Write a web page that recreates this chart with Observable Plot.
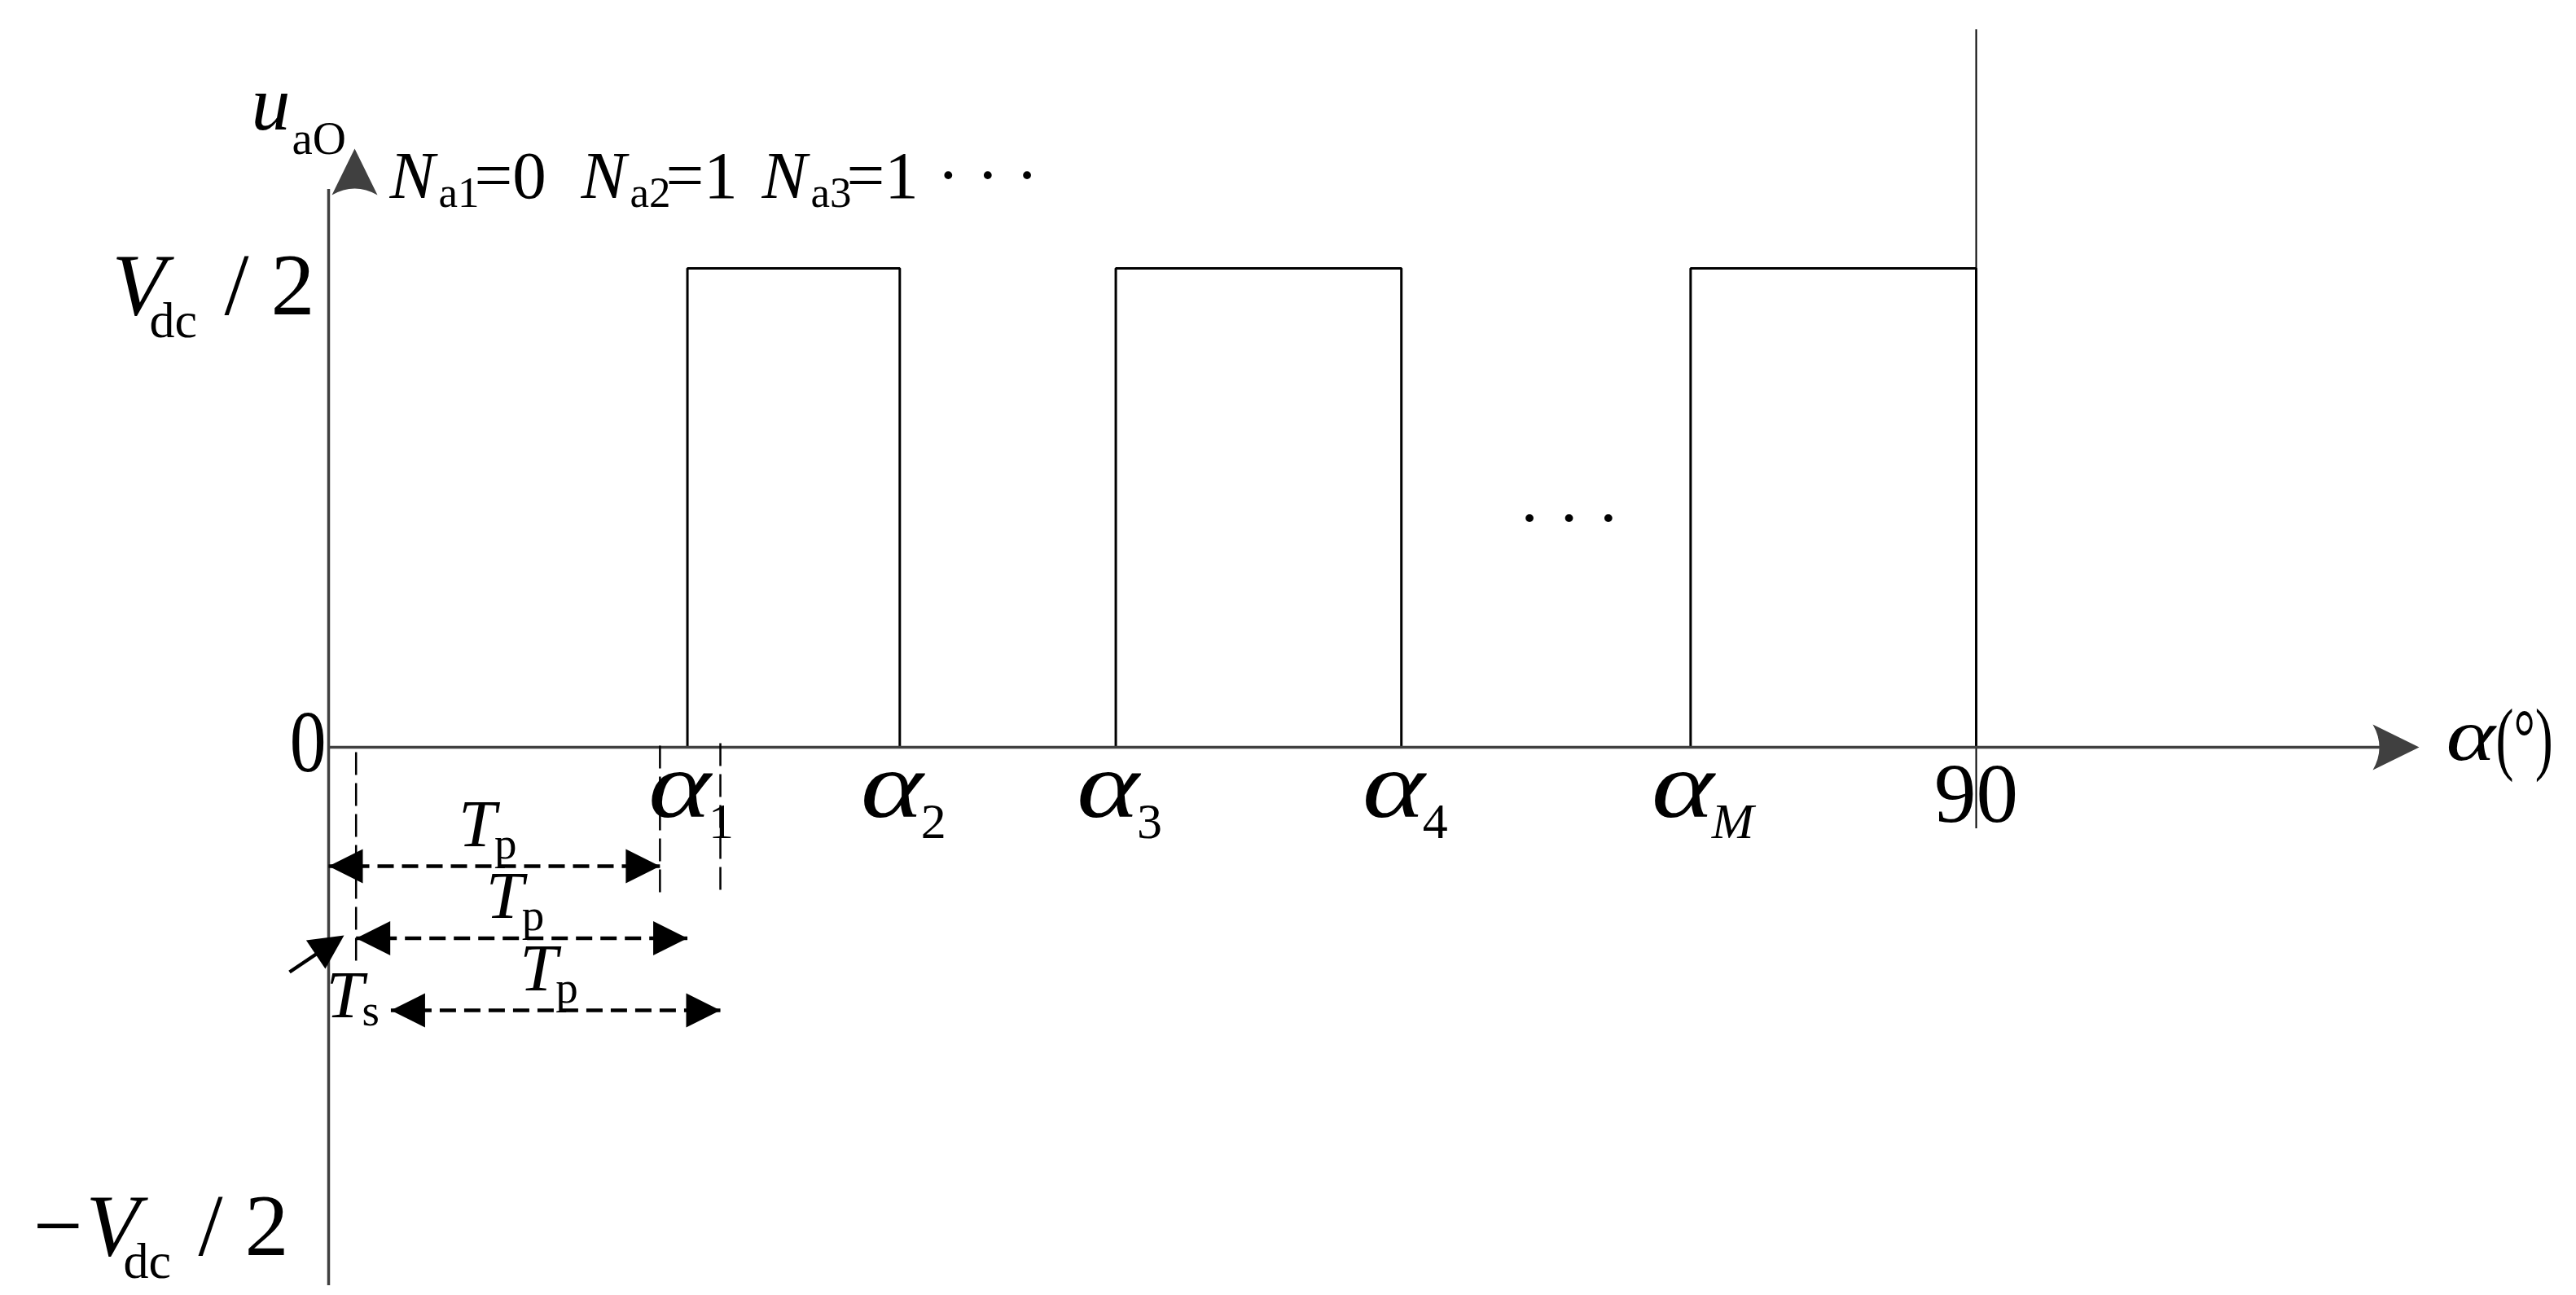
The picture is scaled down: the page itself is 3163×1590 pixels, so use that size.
<!DOCTYPE html>
<html><head><meta charset="utf-8">
<script src="https://cdn.jsdelivr.net/npm/d3@7"></script>
<script src="https://cdn.jsdelivr.net/npm/@observablehq/plot@0.6"></script>
<style>html,body{margin:0;padding:0;background:#fff;overflow:hidden}</style>
</head><body><div id="chart"></div>
<script>
// ---------------- data ----------------
const switchNames = ["1", "2", "3", "4", "M"];          // α subscripts
const switchAngles = [19.6, 31.2, 43.0, 58.6, 74.4];   // switching angles (deg)
const quarterEnd = 90;                                  // end of quarter wave (deg)
const pulseLevel = 1;                                   // Vdc/2 (normalised)
const levelValues = [1, 0, -1];                         // +Vdc/2, 0, −Vdc/2
const nNames = ["a1", "a2", "a3"];
const nValues = [0, 1, 1];
const windowStarts = [0, 1.5, 3.4];                     // Tp windows (deg)
const windowEnds = [18.1, 19.6, 21.4];

// ---------------- geometry ----------------
const W = 3163, H = 1590;
const ox = 403, kx = 22.478, oy = 917, ky = 588;
const X = p => (p - ox) / kx;
const Y = p => (oy - p) / ky;
const FONT = "'Liberation Serif', 'Times New Roman', serif";
const AXIS = "#404040";

// pulses from switching angles
const edges = [...switchAngles, quarterEnd];
const pulsePts = [];
for (let i = 0; i + 1 < edges.length; i += 2) {
  const a = edges[i], b = edges[i + 1];
  pulsePts.push({x: a, y: 0, k: i}, {x: a, y: pulseLevel, k: i}, {x: b, y: pulseLevel, k: i}, {x: b, y: 0, k: i});
}

// custom arrowhead symbols (tip at origin, pointing up)
const axisHead = {draw(ctx) { ctx.moveTo(0, 0); ctx.lineTo(28, 57); ctx.quadraticCurveTo(0, 41, -28, 57); ctx.closePath(); }};
const triHead = {draw(ctx) { ctx.moveTo(0, 0); ctx.lineTo(21, 42); ctx.lineTo(-21, 42); ctx.closePath(); }};

// Tp windows
const rows = windowStarts.map((s, i) => ({s, e: windowEnds[i], y: Y(1063 + i * 88.5), i}));

// text parts
const parts = [];
function P(x, y, dx, dy, t, s, it = false, anchor = "start") {
  parts.push({x: x + dx / kx, y: y - dy / ky, t, s, it, anchor});
}
// axis titles
P(X(308), Y(158), 0, 0, "u", 96, true);
P(X(358), Y(188), 0, 0, "aO", 57);
P(X(3003), Y(932), 0, 0, "α", 92, true);
P(X(3064), Y(938), 0, 0, "(°)", 100);
// N labels
const nX = [478, 713, 935];
nNames.forEach((n, i) => {
  P(X(nX[i]), Y(242), 0, 0, "N", 83, true);
  P(X(nX[i] + 60), Y(253), 0, 0, n, 53);
  P(X(nX[i] + 104), Y(242), 0, 0, "=" + nValues[i], 83);
});
P(X(1150), Y(242), 0, 0, "· · ·", 83);
// level labels
levelValues.forEach(v => {
  if (v > 0) {
    P(0, v, -266, 56, "V", 108, true);
    P(0, v, -220, 84, "dc", 62);
    P(0, v, -128, 56, "/ 2", 108);
  } else if (v < 0) {
    P(0, v, -363, 35, "−", 108);
    P(0, v, -298, 35, "V", 108, true);
    P(0, v, -252, 63, "dc", 62);
    P(0, v, -160, 35, "/ 2", 108);
  } else {
    P(0, v, -3, 29, "0", 108, false, "end");
  }
});
// switching angle labels
switchAngles.forEach((a, i) => {
  P(a, 0, -48, 85, "α", 117, true);
  P(a, 0, 26, 111, switchNames[i], 62, switchNames[i] === "M");
});
P(quarterEnd, 0, 0, 91, "90", 103, false, "middle");
P(X(1926), Y(663), 0, 0, "· · ·", 83, false, "middle");
// Tp / Ts labels
rows.forEach(r => {
  const c = (r.s + r.e) / 2;
  P(c, r.y, -44, -25, "T", 83, true);
  P(c, r.y, 0, -10, "p", 55);
});
P(X(400), Y(1248), 0, 0, "T", 83, true);
P(X(444), Y(1258), 0, 0, "s", 55);

function textMarks() {
  const out = [];
  for (const it of [true, false]) for (const anchor of ["start", "middle", "end"]) {
    const d = parts.filter(p => p.it === it && p.anchor === anchor);
    if (!d.length) continue;
    out.push(Plot.text(d, {x: "x", y: "y", text: "t", fontSize: "s", textAnchor: anchor, lineAnchor: "bottom",
      fontStyle: it ? "italic" : "normal", fontFamily: FONT, fill: "#000"}));
  }
  return out;
}

const chart = Plot.plot({
  width: W, height: H, margin: 0,
  style: {fontFamily: FONT, background: "#fff"},
  x: {domain: [X(0), X(W)], range: [0, W], axis: null},
  y: {domain: [Y(H), Y(0)], range: [H, 0], axis: null},
  marks: [
    // pulses
    Plot.line(pulsePts, {x: "x", y: "y", z: "k", stroke: "#000", strokeWidth: 3, strokeLinejoin: "miter"}),
    // 90° marker
    Plot.ruleX([quarterEnd], {y1: Y(1017), y2: Y(36), stroke: "#000", strokeWidth: 2}),
    // axes
    Plot.ruleY([0], {x1: 0, x2: X(2925), stroke: AXIS, strokeWidth: 3.5}),
    Plot.ruleX([0], {y1: Y(1578), y2: Y(232), stroke: AXIS, strokeWidth: 3.5}),
    Plot.dot([0], {x: X(2970), y: 0, symbol: axisHead, r: 10, fill: AXIS, stroke: "none", rotate: 90}),
    Plot.dot([0], {x: X(435), y: Y(182), symbol: axisHead, r: 10, fill: AXIS, stroke: "none", rotate: 0}),
    // dashed guide lines
    Plot.link([windowStarts[1]], {x1: d => d, x2: d => d, y1: Y(923), y2: Y(1183), stroke: "#000", strokeWidth: 2.5, strokeDasharray: "28,10"}),
    Plot.link([windowEnds[0]], {x1: d => d, x2: d => d, y1: Y(915), y2: Y(1098), stroke: "#000", strokeWidth: 2.5, strokeDasharray: "28,10"}),
    Plot.link([windowEnds[2]], {x1: d => d, x2: d => d, y1: Y(912), y2: Y(1093), stroke: "#000", strokeWidth: 2.5, strokeDasharray: "28,10"}),
    // Tp windows
    Plot.link(rows, {x1: "s", x2: "e", y1: "y", y2: "y", stroke: "#000", strokeWidth: 4.5, strokeDasharray: "20,10"}),
    Plot.dot(rows, {x: "s", y: "y", symbol: triHead, r: 10, fill: "#000", stroke: "none", rotate: -90}),
    Plot.dot(rows, {x: "e", y: "y", symbol: triHead, r: 10, fill: "#000", stroke: "none", rotate: 90}),
    // Ts pointer
    Plot.link([0], {x1: X(355), y1: Y(1193), x2: X(410), y2: Y(1156), stroke: "#000", strokeWidth: 4.5}),
    Plot.dot([0], {x: X(422), y: Y(1148), symbol: triHead, r: 10, fill: "#000", stroke: "none", rotate: 56}),
    ...textMarks()
  ]
});

// horizontal glyph proportions (style only)
const SX = {"α": 1.25, "(°)": 0.66, "0": 0.83};
chart.querySelectorAll("text").forEach(el => {
  const s = SX[el.textContent];
  if (!s) return;
  let tf = el.getAttribute("transform") || "";
  const xa = el.getAttribute("x"), ya = el.getAttribute("y");
  if (xa != null && !/em$/.test(xa)) { tf += ` translate(${xa},0)`; el.removeAttribute("x"); }
  if (ya != null && !/em$/.test(ya)) { tf += ` translate(0,${ya})`; el.removeAttribute("y"); }
  el.setAttribute("transform", `${tf} scale(${s},1)`);
});
document.getElementById("chart").appendChild(chart);
</script>
</body></html>
